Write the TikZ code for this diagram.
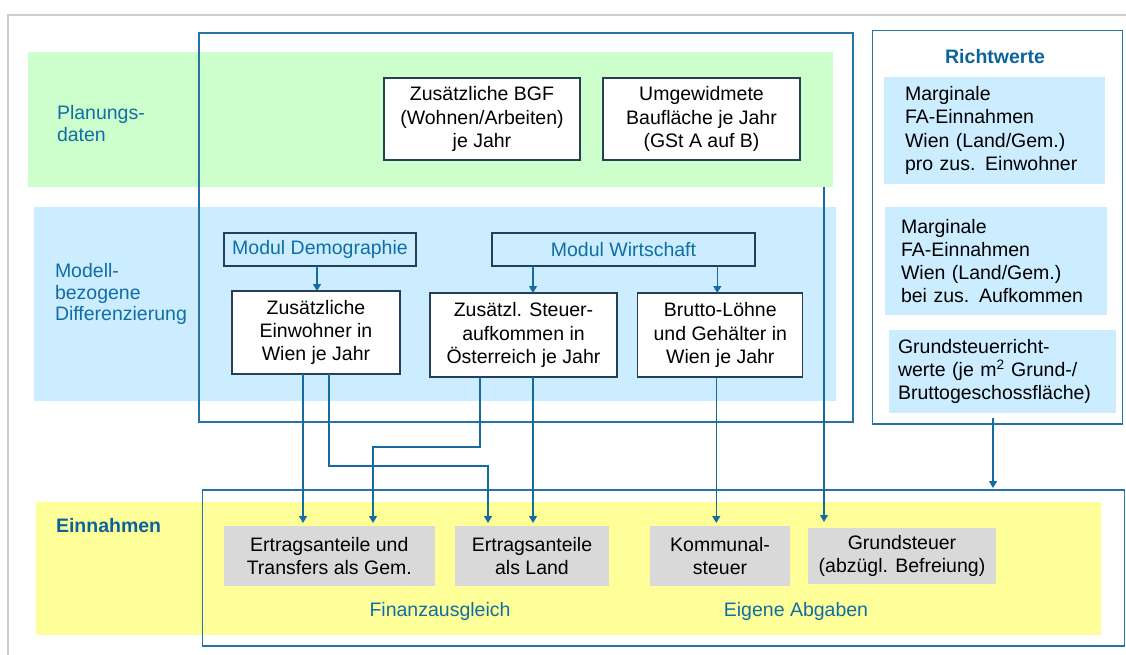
\documentclass[tikz,border=0pt]{standalone}
\usepackage{fontspec}
\setmainfont{Liberation Sans}
\usetikzlibrary{arrows.meta}
\definecolor{gband}{RGB}{204,255,204}
\definecolor{lblue}{RGB}{204,236,255}
\definecolor{yband}{RGB}{255,255,153}
\definecolor{greybox}{RGB}{217,217,217}
\definecolor{boxline}{RGB}{40,62,85}
\definecolor{framecol}{RGB}{40,115,165}
\definecolor{arrcol}{RGB}{20,108,160}
\definecolor{txtblue}{RGB}{16,110,165}
\definecolor{hdblue}{RGB}{10,100,155}
\definecolor{outline}{RGB}{205,205,205}
\tikzset{
 base/.style={font=\fontsize{19.5}{23.3}\selectfont, inner sep=0pt, outer sep=0pt},
 wbox/.style={base, draw=boxline, line width=1.1pt, fill=white, align=center},
 mbox/.style={base, draw=boxline, line width=1.1pt, text=txtblue, align=center},
 gbox/.style={base, fill=greybox, align=center},
 rbox/.style={base, fill=lblue, align=left},
 band/.style={base, draw=none},
 frame/.style={base, draw=framecol, line width=1.1pt},
 lbl/.style={base, text=txtblue, align=left},
 hd/.style={base, text=hdblue, font=\fontsize{19.5}{23.3}\selectfont\bfseries},
 arr/.style={draw=arrcol, line width=1.1pt, -{Triangle[length=7pt,width=8pt]}},
}
\begin{document}
\begin{tikzpicture}[x=1pt,y=-1pt]
\useasboundingbox (0,0) rectangle (1126,655);
% outer grey frame
\draw[outline, line width=1.2pt] (8,655) -- (8,15) -- (1126,15);
% bands
\node[band, fill=gband, minimum width=804.7pt, minimum height=135pt] (plan) at (430.25,119.2) {};
\node[band, fill=lblue, minimum width=802pt, minimum height=194pt] (model) at (435,303.7) {};
\node[band, fill=yband, minimum width=1065pt, minimum height=132.7pt] (einn) at (568.5,568.35) {};
% frames
\node[frame, minimum width=654pt, minimum height=389pt] (bigf) at (526,227.5) {};
\node[frame, minimum width=250pt, minimum height=393.3pt] (rframe) at (997.5,227.35) {};
\node[frame, minimum width=922pt, minimum height=156pt] (bframe) at (663.5,568) {};
% side labels
\node[lbl, anchor=west, font=\fontsize{19.5}{22}\selectfont] (lplan) at (57,124) {Planungs-\\daten};
\node[lbl, anchor=west, font=\fontsize{19.5}{21.3}\selectfont] (lmod) at (55,294) {Modell-\\bezogene\\Differenzierung};
\node[hd, anchor=west] (lein) at (56,526) {Einnahmen};
\node[hd] (lrw) at (995,57) {Richtwerte};
\node[lbl] (lfa) at (440,611) {Finanzausgleich};
\node[lbl] (lea) at (796,611) {Eigene Abgaben};
% planning boxes
\node[wbox, minimum width=196pt, minimum height=82pt] (bgf) at (482,119) {Zusätzliche BGF\\(Wohnen/Arbeiten)\\je Jahr};
\node[wbox, minimum width=197pt, minimum height=82pt] (umg) at (701.5,119) {Umgewidmete\\Baufläche je Jahr\\(GSt A auf B)};
% model boxes
\node[mbox, minimum width=192pt, minimum height=33pt] (mdem) at (320,249.5) {Modul Demographie};
\node[mbox, minimum width=263pt, minimum height=33pt] (mwirt) at (623.5,249.5) {Modul Wirtschaft};
\node[wbox, minimum width=168pt, minimum height=83pt] (einw) at (316,332.5) {Zusätzliche\\Einwohner in\\Wien je Jahr};
\node[wbox, minimum width=187pt, minimum height=84pt] (steuer) at (523.5,335) {Zusätzl. Steuer-\\aufkommen in\\Österreich je Jahr};
\node[wbox, minimum width=165pt, minimum height=84pt] (brutto) at (720.3,335) {Brutto-Löhne\\und Gehälter in\\Wien je Jahr};
% revenue boxes
\node[gbox, minimum width=210.6pt, minimum height=60pt] (ertgem) at (329.3,556) {Ertragsanteile und\\Transfers als Gem.};
\node[gbox, minimum width=154pt, minimum height=60pt] (ertland) at (532,556) {Ertragsanteile\\als Land};
\node[gbox, minimum width=140pt, minimum height=60pt] (komm) at (720,556) {Kommunal-\\steuer};
\node[gbox, minimum width=188pt, minimum height=56pt] (grund) at (902,556) {Grundsteuer\\(abzügl. Befreiung)};
% Richtwerte boxes
\node[rbox, minimum width=221pt, minimum height=107pt, inner xsep=21pt, text width=179pt] (rw1) at (994.5,130.5) {Marginale\\FA-Einnahmen\\Wien (Land/Gem.)\\pro zus. Einwohner};
\node[rbox, minimum width=222pt, minimum height=108pt, inner xsep=16pt, text width=190pt] (rw2) at (996,261) {Marginale\\FA-Einnahmen\\Wien (Land/Gem.)\\bei zus. Aufkommen};
\node[rbox, minimum width=227pt, minimum height=83pt, inner xsep=9pt, text width=209pt] (rw3) at (1002.5,371.5) {Grundsteuerricht-\\werte (je m\textsuperscript{2} Grund-/\\Bruttogeschossfläche)};
% helper coordinates
\coordinate (j1) at (0,466);
\coordinate (j2) at (0,447);
\coordinate (a0) at ([xshift=-3pt]mdem.south);
\coordinate (a1) at ([xshift=9.5pt]steuer.north);
\coordinate (a2) at ([xshift=-3pt]brutto.north);
\coordinate (b1) at ([xshift=-13pt]einw.south);
\coordinate (b2) at ([xshift=13pt]einw.south);
\coordinate (b3) at ([xshift=-44pt]ertland.north);
\coordinate (c1) at ([xshift=-43.5pt]steuer.south);
\coordinate (c2) at ([xshift=43.7pt]ertgem.north);
\coordinate (c3) at ([xshift=9.5pt]steuer.south);
\coordinate (d1) at ([xshift=-4pt]brutto.south);
\coordinate (e1) at ([xshift=-78pt]grund.north);
\coordinate (f1) at ([xshift=-9.5pt,yshift=-5pt]rw3.south);
% connectors
\draw[arr] (a0) -- (a0 |- einw.north);
\draw[arr] (a1 |- mwirt.south) -- (a1);
\draw[arr] (a2 |- mwirt.south) -- (a2);
\draw[arr, shorten >=3pt] (b1) -- (b1 |- ertgem.north);
\draw[arr, shorten >=3pt] (b2) -- (b2 |- j1) -- (b3 |- j1) -- (b3);
\draw[arr, shorten >=3pt] (c1) -- (c1 |- j2) -- (c2 |- j2) -- (c2);
\draw[arr, shorten >=3pt] (c3) -- (c3 |- ertland.north);
\draw[arr, shorten >=3pt] (d1) -- (d1 |- komm.north);
\draw[arr, shorten >=6pt] (e1 |- plan.south) -- (e1);
\draw[arr, shorten >=2pt] (f1) -- (f1 |- bframe.north);
\end{tikzpicture}
\end{document}
